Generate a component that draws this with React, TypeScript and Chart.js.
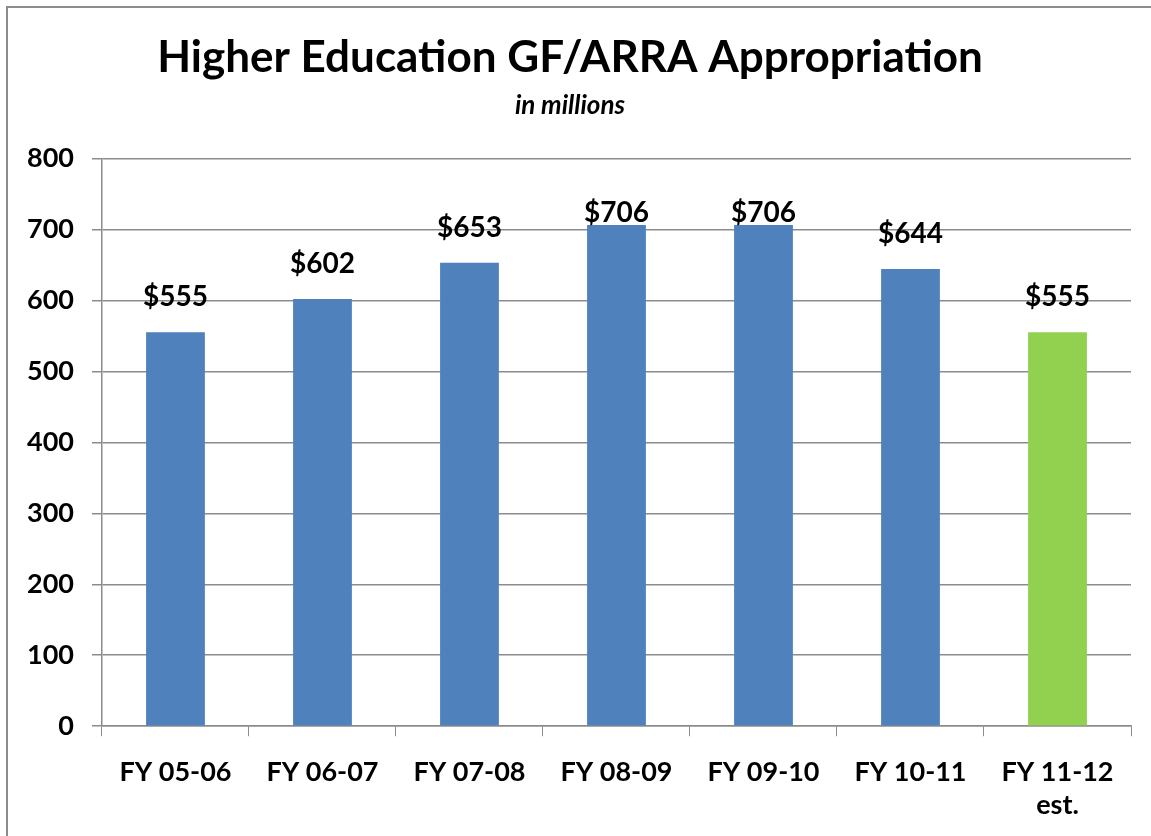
import React, { useEffect, useRef } from 'react';
import { Chart, registerables } from 'chart.js';

Chart.register(...registerables);

const categories: string[][] = [
  ['FY 05-06'],
  ['FY 06-07'],
  ['FY 07-08'],
  ['FY 08-09'],
  ['FY 09-10'],
  ['FY 10-11'],
  ['FY 11-12', 'est.'],
];
const values: number[] = [555, 602, 653, 706, 706, 644, 555];
const valueLabels: string[] = ['$555', '$602', '$653', '$706', '$706', '$644', '$555'];
const barColors: string[] = ['#4F81BD', '#4F81BD', '#4F81BD', '#4F81BD', '#4F81BD', '#4F81BD', '#92D050'];
const yMin = 0;
const yMax = 800;
const yStep = 100;

const FONT = 'Lato, "Open Sans", "Noto Sans", sans-serif';
const GRID = '#8c8c8c';

const dataLabelPlugin = {
  id: 'dataLabels',
  afterDatasetsDraw(chart: any) {
    const ctx = chart.ctx;
    const meta = chart.getDatasetMeta(0);
    ctx.save();
    ctx.font = `bold 28px ${FONT}`;
    ctx.fillStyle = '#000';
    ctx.textAlign = 'center';
    ctx.textBaseline = 'middle';
    meta.data.forEach((bar: any, i: number) => {
      const y = Math.max(bar.y - 35, chart.chartArea.top + 55);
      ctx.fillText(valueLabels[i], bar.x, y);
    });
    ctx.restore();
  },
};

export default function App() {
  const ref = useRef<HTMLCanvasElement>(null);
  useEffect(() => {
    if (!ref.current) return;
    const chart = new Chart(ref.current, {
      type: 'bar',
      data: {
        labels: categories,
        datasets: [
          {
            data: values,
            backgroundColor: barColors,
            borderWidth: 0,
            barPercentage: 0.4,
            categoryPercentage: 1,
          },
        ],
      },
      options: {
        responsive: false,
        animation: false,
        layout: { padding: { left: 9, right: 20, bottom: -5, top: 0 } },
        plugins: {
          legend: { display: false },
          tooltip: { enabled: false },
          title: {
            display: true,
            text: 'Higher Education GF/ARRA Appropriation',
            color: '#000',
            font: { family: FONT, size: 44, weight: 'bold', lineHeight: 1.1 },
            padding: { top: 34, bottom: 10 },
          },
          subtitle: {
            display: true,
            text: 'in millions',
            color: '#000',
            font: { family: FONT, size: 26, weight: 'bold', style: 'italic', lineHeight: 1.0 },
            padding: { top: 0, bottom: 40 },
          },
        },
        scales: {
          x: {
            grid: {
              display: true,
              drawOnChartArea: false,
              drawTicks: true,
              tickLength: 10,
              color: GRID,
              offset: true,
            },
            border: { display: true, color: GRID, width: 1.5 },
            ticks: {
              color: '#000',
              font: { family: FONT, size: 27, weight: 'bold', lineHeight: 1.2 },
              padding: 20,
              maxRotation: 0,
            },
          },
          y: {
            min: yMin,
            max: yMax,
            grid: {
              color: GRID,
              lineWidth: 1.5,
              tickLength: 10,
              drawTicks: true,
            },
            border: { display: true, color: GRID, width: 1.5 },
            ticks: {
              stepSize: yStep,
              color: '#000',
              font: { family: FONT, size: 27, weight: 'bold' },
              padding: 18,
            },
          },
        },
      },
      plugins: [dataLabelPlugin],
    });
    return () => chart.destroy();
  }, []);

  return (
    <div style={{ position: 'fixed', left: 0, top: 0, width: 1151, height: 836, background: '#fff' }}>
      <div
        style={{
          position: 'absolute',
          left: 6,
          top: 6,
          width: 1145,
          height: 830,
          borderLeft: '2px solid #8c8c8c',
          borderTop: '2px solid #8c8c8c',
          boxSizing: 'border-box',
        }}
      />
      <canvas ref={ref} width={1151} height={836} style={{ position: 'absolute', left: 0, top: 0 }} />
    </div>
  );
}
